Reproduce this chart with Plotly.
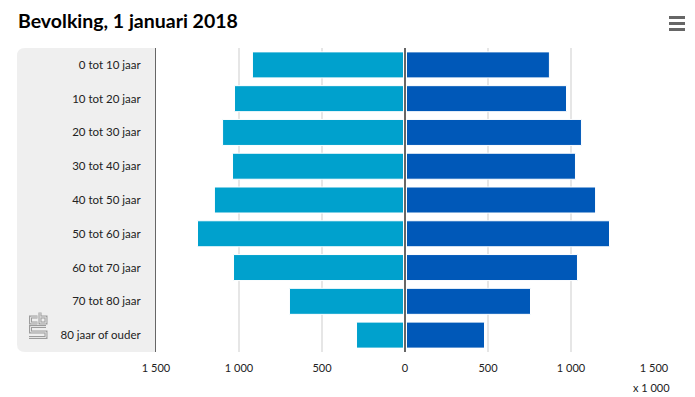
import plotly.graph_objects as go

# ---- data (x 1 000) ----
categories = ["0 tot 10 jaar", "10 tot 20 jaar", "20 tot 30 jaar", "30 tot 40 jaar",
              "40 tot 50 jaar", "50 tot 60 jaar", "60 tot 70 jaar", "70 tot 80 jaar",
              "80 jaar of ouder"]
mannen = [919, 1027, 1099, 1039, 1148, 1250, 1033, 696, 292]
vrouwen = [870, 973, 1063, 1027, 1148, 1232, 1039, 756, 479]
tick_vals = [-1500, -1000, -500, 0, 500, 1000, 1500]
tick_text = ["1 500", "1 000", "500", "0", "500", "1 000", "1 500"]

# ---- geometry ----
W_FIG, H_FIG = 695, 397
L, R, T, B = 156, 41, 48, 45
PW = W_FIG - L - R
PH = H_FIG - T - B
BOTTOM = H_FIG - B


def px(x):
    return (x - L) / PW


def py(y):
    return (BOTTOM - y) / PH


FONT = "Lato, 'Open Sans', sans-serif"
CYAN = "#00a1cd"
DARK = "#0058b8"

fig = go.Figure()
fig.add_trace(go.Bar(
    y=categories, x=[-v for v in mannen], orientation="h", name="Mannen",
    marker=dict(color=CYAN, line=dict(color="white", width=1)),
    customdata=mannen, hovertemplate="%{y}<br>Mannen: %{customdata}<extra></extra>",
))
fig.add_trace(go.Bar(
    y=categories, x=vrouwen, orientation="h", name="Vrouwen",
    marker=dict(color=DARK, line=dict(color="white", width=1)),
    hovertemplate="%{y}<br>Vrouwen: %{x}<extra></extra>",
))

shapes = []
# grey category panel with rounded left corners
r = 8
x0, x1 = px(17), px(L)
y0, y1 = py(BOTTOM), py(T)
rx, ry = r / PW, r / PH
panel = (f"M {x1} {y1} L {x0 + rx} {y1} Q {x0} {y1} {x0} {y1 - ry} "
         f"L {x0} {y0 + ry} Q {x0} {y0} {x0 + rx} {y0} L {x1} {y0} Z")
shapes.append(dict(type="path", path=panel, xref="paper", yref="paper",
                   fillcolor="#efefef", line=dict(width=0), layer="below"))
# zero line with white gap
shapes.append(dict(type="line", xref="x", yref="paper", x0=0, x1=0, y0=0, y1=1,
                   line=dict(color="white", width=4), layer="above"))
shapes.append(dict(type="line", xref="x", yref="paper", x0=0, x1=0, y0=0, y1=1,
                   line=dict(color="#666666", width=2), layer="above"))
# hamburger icon
for yy in (17.5, 23.5, 29.5):
    shapes.append(dict(type="line", xref="paper", yref="paper",
                       x0=px(669), x1=px(685), y0=py(yy), y1=py(yy),
                       line=dict(color="#666666", width=3)))
# CBS logo (decorative, outlined strokes)
logo_paths = [
    [(37.5, 317), (30.5, 317), (30.5, 323), (37.5, 323)],                 # c
    [(40, 312.5), (40, 323), (46, 323), (46, 317), (40, 317)],            # b
    [(46, 326.5), (30.5, 326.5), (30.5, 332), (46, 332), (46, 337.5), (29, 337.5)],  # S
]
for col, w in (("#9c9c9c", 3), ("#e4e4e4", 1)):
    for pts in logo_paths:
        d = "M " + " L ".join(f"{px(a)} {py(b)}" for a, b in pts)
        shapes.append(dict(type="path", path=d, xref="paper", yref="paper",
                           line=dict(color=col, width=w)))

annotations = [
    dict(text="Bevolking, 1 januari 2018", xref="paper", yref="paper",
         x=px(16), y=py(20), xanchor="left", yanchor="middle", showarrow=False,
         font=dict(family=FONT, size=19.5, color="#000000", weight="bold")),
    dict(text="x 1 000", xref="paper", yref="paper", x=px(672), y=py(387),
         xanchor="right", yanchor="middle", showarrow=False,
         font=dict(family=FONT, size=11, color="#222222")),
]

fig.update_layout(
    width=W_FIG, height=H_FIG,
    margin=dict(l=L, r=R, t=T, b=B, pad=0),
    paper_bgcolor="white", plot_bgcolor="white",
    barmode="relative", bargap=0.23,
    showlegend=False,
    font=dict(family=FONT, size=11, color="#222222"),
    shapes=shapes, annotations=annotations,
    xaxis=dict(range=[-1500, 1500], tickvals=tick_vals, ticktext=tick_text,
               showgrid=True, gridcolor="#e6e6e6", gridwidth=2,
               zeroline=False, showline=False, ticks="",
               ticklabelstandoff=8, fixedrange=True,
               tickfont=dict(family=FONT, size=11, color="#222222")),
    yaxis=dict(categoryorder="array", categoryarray=categories, autorange="reversed",
               showgrid=False, zeroline=False, showline=True, linecolor="#666666",
               linewidth=1, ticks="", ticklabelstandoff=12, fixedrange=True,
               tickfont=dict(family=FONT, size=11.5, color="#222222")),
)

fig.write_html("out.html", config={"displayModeBar": False},
               post_script="document.body.style.margin='0';document.body.style.padding='0';")
